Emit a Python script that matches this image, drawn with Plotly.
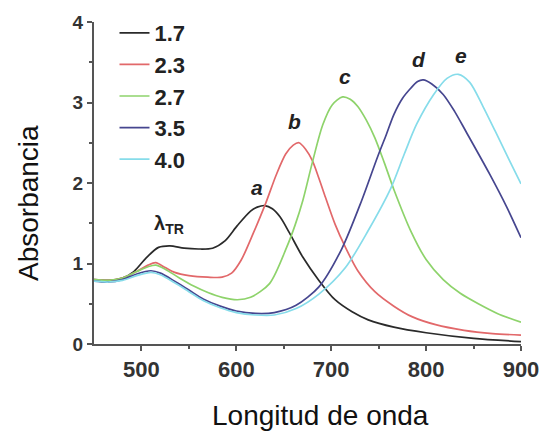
import plotly.graph_objects as go

# Absorption spectra for different aspect ratios (wavelength in nm)
wl_a = [450, 465, 480, 492, 505, 518, 530, 545, 560, 575, 588, 601, 615, 622, 630, 638, 646, 656, 670, 687, 704, 722, 739, 766, 800, 850, 900]
abs_a = [0.80, 0.79, 0.82, 0.90, 1.07, 1.20, 1.22, 1.19, 1.18, 1.19, 1.28, 1.47, 1.65, 1.70, 1.72, 1.68, 1.58, 1.38, 1.08, 0.79, 0.55, 0.40, 0.30, 0.21, 0.14, 0.07, 0.03]

wl_b = [450, 465, 480, 495, 507, 515, 525, 535, 550, 570, 585, 595, 605, 618, 631, 642, 652, 660, 666, 673, 680, 687, 694, 704, 715, 728, 746, 766, 785, 810, 840, 870, 900]
abs_b = [0.80, 0.79, 0.82, 0.90, 0.98, 1.01, 0.95, 0.89, 0.85, 0.83, 0.83, 0.88, 1.04, 1.38, 1.75, 2.10, 2.36, 2.47, 2.50, 2.42, 2.28, 2.06, 1.82, 1.49, 1.20, 0.91, 0.65, 0.47, 0.34, 0.24, 0.17, 0.13, 0.11]

wl_c = [450, 465, 480, 495, 507, 515, 525, 540, 555, 570, 585, 601, 615, 635, 653, 662, 670, 680, 691, 701, 712, 720, 728, 737, 746, 756, 766, 784, 800, 818, 836, 855, 875, 900]
abs_c = [0.80, 0.79, 0.82, 0.90, 0.96, 0.98, 0.93, 0.82, 0.72, 0.64, 0.58, 0.55, 0.58, 0.75, 1.20, 1.48, 1.78, 2.25, 2.72, 2.97, 3.07, 3.04, 2.95, 2.78, 2.56, 2.25, 1.92, 1.40, 1.05, 0.80, 0.63, 0.50, 0.38, 0.27]

wl_d = [450, 465, 480, 495, 510, 520, 535, 550, 565, 583, 600, 620, 640, 663, 687, 711, 732, 749, 758, 766, 775, 784, 791, 797, 806, 818, 830, 842, 867, 885, 900]
abs_d = [0.78, 0.77, 0.80, 0.87, 0.91, 0.88, 0.78, 0.67, 0.56, 0.47, 0.41, 0.38, 0.39, 0.48, 0.71, 1.18, 1.78, 2.33, 2.60, 2.85, 3.05, 3.18, 3.26, 3.28, 3.23, 3.10, 2.89, 2.64, 2.11, 1.70, 1.32]

wl_e = [450, 465, 480, 495, 510, 520, 535, 550, 565, 583, 600, 620, 640, 663, 687, 715, 739, 763, 777, 790, 808, 822, 834, 846, 860, 873, 887, 900]
abs_e = [0.78, 0.77, 0.79, 0.85, 0.89, 0.86, 0.76, 0.65, 0.54, 0.45, 0.39, 0.36, 0.36, 0.44, 0.62, 0.95, 1.41, 1.94, 2.36, 2.73, 3.10, 3.30, 3.35, 3.25, 2.95, 2.64, 2.30, 1.99]

series_names = ["1.7", "2.3", "2.7", "3.5", "4.0"]
series_colors = ["#2a2a2a", "#e2686a", "#8ed36b", "#46468f", "#86dcea"]

# Peak labels
peak_labels = ["a", "b", "c", "d", "e"]
peak_label_x = [622, 661, 715, 792, 837]
peak_label_y = [1.94, 2.77, 3.32, 3.53, 3.59]

fig = go.Figure()
for wl, ab, name, color in zip([wl_a, wl_b, wl_c, wl_d, wl_e],
                               [abs_a, abs_b, abs_c, abs_d, abs_e],
                               series_names, series_colors):
    fig.add_trace(go.Scatter(
        x=wl, y=ab, name=name, mode="lines",
        line=dict(color=color, width=1.7, shape="spline", smoothing=0.8),
    ))

for lab, lx, ly in zip(peak_labels, peak_label_x, peak_label_y):
    fig.add_annotation(x=lx, y=ly, text=f"<b><i>{lab}</i></b>", showarrow=False,
                       font=dict(family="Liberation Sans", size=21, color="#222"))

fig.add_annotation(x=529, y=1.49, text="<b>λ<sub>TR</sub></b>", showarrow=False,
                   font=dict(family="Liberation Sans", size=20, color="#222"))

# Axis titles
fig.add_annotation(xref="paper", yref="paper", x=0.531, y=0, yshift=-71,
                   xanchor="center", yanchor="middle",
                   text="Longitud de onda", showarrow=False,
                   font=dict(family="Liberation Sans", size=28, color="#111"))
fig.add_annotation(xref="paper", yref="paper", x=0, xshift=-66, y=0.5, yshift=-20,
                   xanchor="center", yanchor="middle",
                   text="Absorbancia", textangle=-90, showarrow=False,
                   font=dict(family="Liberation Sans", size=28, color="#111"))

fig.update_layout(
    width=551, height=434,
    margin=dict(l=94, r=22, t=20, b=90),
    plot_bgcolor="white", paper_bgcolor="white",
    showlegend=True,
    legend=dict(x=0.048, y=1.031, xanchor="left", yanchor="top",
                font=dict(family="Liberation Sans", size=22, color="#222", weight="bold"),
                bgcolor="rgba(0,0,0,0)", itemwidth=30),
    xaxis=dict(range=[450, 900], tickvals=[500, 600, 700, 800, 900],
               showgrid=False, zeroline=False, showline=True, linecolor="#555", linewidth=2,
               ticks="outside", ticklen=5, tickwidth=2, tickcolor="#555",
               minor=dict(tickvals=[550, 650, 750, 850], ticks="outside", ticklen=3, tickwidth=2, tickcolor="#555"),
               tickfont=dict(family="Liberation Sans", size=22, color="#333", weight="bold")),
    yaxis=dict(range=[0, 4], tickvals=[0, 1, 2, 3, 4],
               showgrid=False, zeroline=False, showline=True, linecolor="#555", linewidth=2,
               ticks="outside", ticklen=5, tickwidth=2, tickcolor="#555",
               minor=dict(tickvals=[0.5, 1.5, 2.5, 3.5], ticks="outside", ticklen=3, tickwidth=2, tickcolor="#555"),
               tickfont=dict(family="Liberation Sans", size=19, color="#333", weight="bold")),
)

fig.write_html("out.html")
